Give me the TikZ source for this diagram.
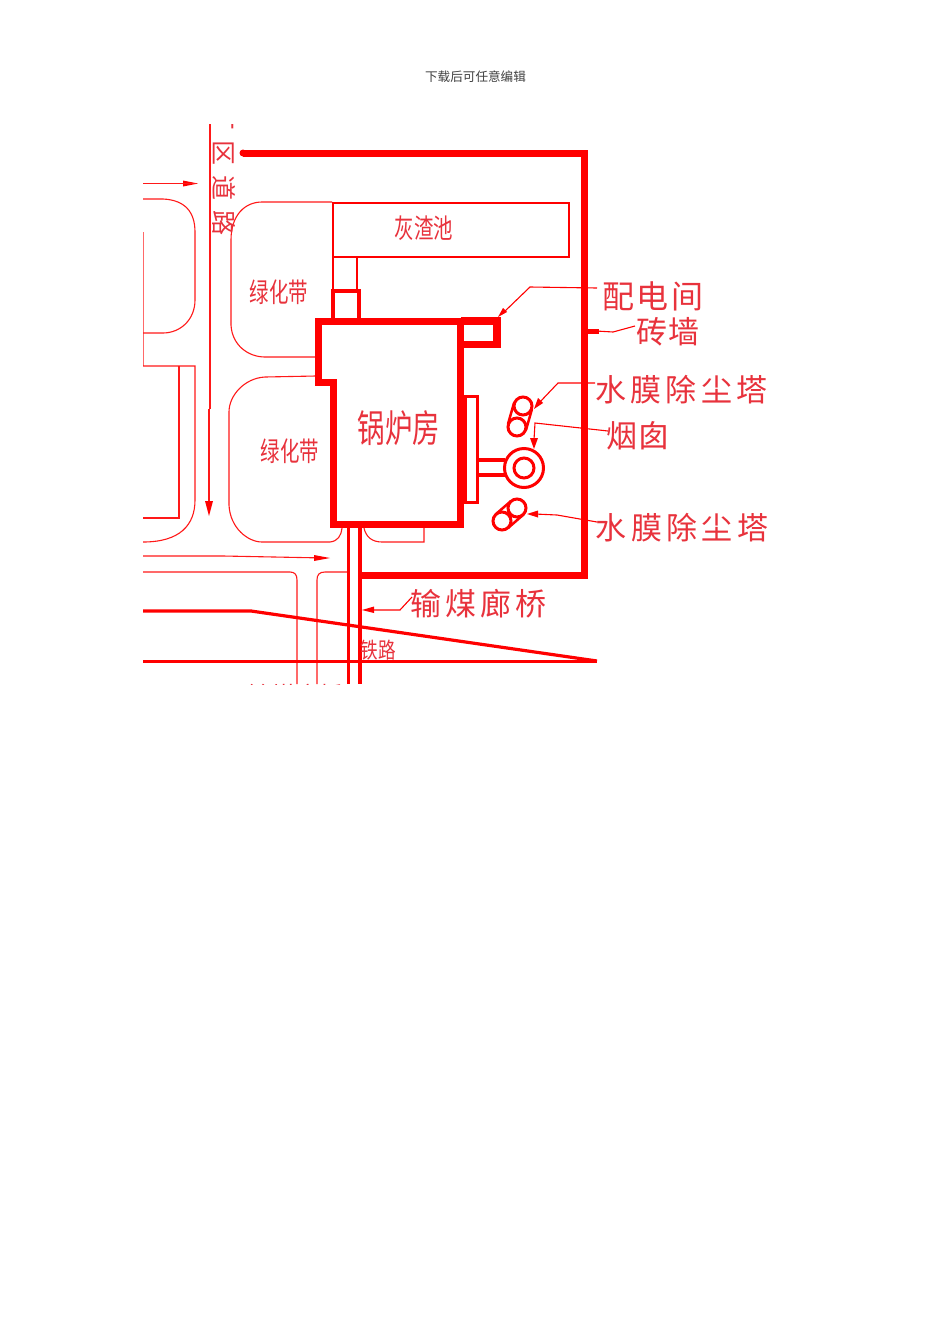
\documentclass[tikz,border=0pt]{standalone}
\usepackage{fontspec}
\setmainfont{Noto Sans CJK SC}
\definecolor{rd}{RGB}{255,0,0}
\definecolor{lbl}{RGB}{232,50,60}
\tikzset{
 thin line/.style={draw=rd!90!white,line width=1.1pt},
 wall/.style={draw=rd,line width=7pt,line join=miter},
 arrowline/.style={draw=rd,line width=1.1pt},
 tiph/.style={fill=rd,draw=none},
 ring/.style={draw=rd,circle,line width=3pt,inner sep=0pt},
 lab/.style={text=lbl,inner sep=0pt,font=\fontsize{#1}{#1}\selectfont},
 lab/.default=30
}
\begin{document}
\begin{tikzpicture}[x=1pt,y=-1pt]
\useasboundingbox (0,0) rectangle (950,1344);
\fill[white] (0,0) rectangle (950,1344);
\node[inner sep=0pt,text=black!75,font=\fontsize{12.6}{13}\selectfont] (hdr) at (475.5,76.5) {下载后可任意编辑};
\begin{scope}
\clip (143,124) rectangle (800,684);
% outer brick wall
\coordinate (w1) at (243,153);
\coordinate (w2) at (584.5,153);
\coordinate (w3) at (584.5,575);
\coordinate (w4) at (360,575);
\draw[rd,line width=7pt] (w1) -- (w2) -- (w3) -- (w4);
\fill[rd] (w1) circle (3.5pt);
% roads
\draw[thin line] (143,199) -- (163,199) .. controls (185,200) and (195,212) .. (195,232) -- (195,300) .. controls (195,320) and (180,333) .. (163,333) -- (143,333);
\draw[thin line] (143,232) -- (143,366) -- (195,366) -- (195,500) .. controls (195,525) and (180,542) .. (143,542);
\draw[thin line] (179,366) -- (179,518) -- (143,518);
\draw[thin line] (210,124) -- (210,409);
\draw[thin line] (209,409) -- (209,505);
\draw[thin line] (332,202) -- (262,202) .. controls (245,202) and (231,215) .. (231,240) -- (231,325) .. controls (232,345) and (248,357) .. (265,357) -- (316,357);
\draw[thin line] (316,376) -- (265,377) .. controls (245,378) and (229,395) .. (229,412) -- (229,505) .. controls (230,528) and (248,542) .. (262,542) -- (330,542) .. controls (338,541) and (341,536) .. (342,528);
\draw[thin line] (364,528) .. controls (366,537) and (372,542) .. (382,542) -- (424,542) -- (424,528);
\draw[thin line] (143,556) -- (223,556) -- (325,558);
\draw[thin line] (143,572) -- (290,572) .. controls (295,572) and (297,575) .. (297,580) -- (297,684);
\draw[thin line] (347,572) -- (325,572) .. controls (319,572) and (317,575) .. (317,580) -- (317,684);
% arrows on roads
\fill[tiph] (183,180.5) -- (183,186.5) -- (198,183.5) -- cycle;
\draw[thin line] (143,183.5) -- (196,183.5);
\fill[tiph] (205,501) -- (213,501) -- (209,516) -- cycle;
\fill[tiph] (314,555) -- (314,561) -- (330,558) -- cycle;
% ash pond
\draw[rd,line width=2.5pt] (333,203) rectangle (569,257);
\node[lab=27,xscale=.72] (pondt) at (424,228) {灰渣池};
\draw[rd,line width=2.5pt] (333,257) rectangle (357,290);
\draw[rd,line width=4pt] (332.5,291) rectangle (359,321);
% switch room
\draw[rd,line width=7.5pt,line join=miter] (461,321) -- (497,321) -- (497,344.5) -- (461,344.5);
% boiler house
\draw[wall] (318,321) -- (460.5,321) -- (460.5,524.5) -- (333,524.5) -- (333,382) -- (318,382) -- cycle;
\node[lab=38,xscale=.72] (boil) at (399,428) {锅炉房};
\node[lab=27,xscale=.72] (g1) at (279,292) {绿化带};
\node[lab=27,xscale=.72] (g2) at (290,451) {绿化带};
% flue box
\draw[rd,line width=3pt] (465,396) rectangle (477,502);
\draw[rd,line width=3.5pt] (477,460) -- (505,460);
\draw[rd,line width=3.5pt] (477,475) -- (505,475);
% stack
\node[ring,minimum size=39pt,fill=white] (stack) at (524,468) {};
\node[ring,minimum size=20pt] (stacki) at (524,468) {};
% scrubbers upper
\node[ring,minimum size=18pt] (s1) at (523,406) {};
\node[ring,minimum size=18pt] (s2) at (517,427) {};
\draw[rd,line width=2.5pt] (514,403) -- (508,424);
\draw[rd,line width=2.5pt] (532,409) -- (526,430);
% scrubbers lower
\node[ring,minimum size=18pt] (s3) at (517,508) {};
\node[ring,minimum size=18pt] (s4) at (502,521) {};
\draw[rd,line width=2.5pt] (511,501) -- (496,514);
\draw[rd,line width=2.5pt] (523,515) -- (508,528);
% coal gallery
\draw[rd,line width=3.3pt] (348.5,528) -- (348.5,684);
\draw[rd,line width=3.3pt] (360,528) -- (360,684);
% rail
\draw[rd,line width=3.2pt] (143,611) -- (251,611) -- (597,661);
\draw[rd,line width=3pt] (143,661.5) -- (597,661.5);
% labels
\node[lab=32] (t1) at (653,296) {配\hspace{3pt}电\hspace{3pt}间};
\node[lab=31] (t2) at (668,332) {砖\hspace{2pt}墙};
\node[lab=31] (t3) at (681.5,390) {水\hspace{4.5pt}膜\hspace{4.5pt}除\hspace{4.5pt}尘\hspace{4.5pt}塔};
\node[lab=31] (t4) at (638,436) {烟\hspace{2pt}囱};
\node[lab=31] (t5) at (682,528) {水\hspace{4.5pt}膜\hspace{4.5pt}除\hspace{4.5pt}尘\hspace{4.5pt}塔};
\node[lab=31] (t6) at (478.5,604) {输\hspace{4.3pt}煤\hspace{4.3pt}廊\hspace{4.3pt}桥};
\node[lab=22,xscale=.8] (t7) at (378,650) {铁路};
\node[lab=25,rotate=-90] (t8) at (224,170) {厂\hspace{10pt}区\hspace{10pt}道\hspace{10pt}路};
\node[lab=24,anchor=west] (t9) at (247,695) {输煤廊桥};
% leaders
\coordinate (l1) at (597,288);
\coordinate (l2) at (530,287);
\draw[arrowline] (l1) -- (l2) -- (503,313);
\fill[tiph] (498,317) -- (503,308) -- (507,312) -- cycle;
\draw[arrowline] (635,326) -- (613,332) -- (596,331);
\fill[tiph] (588,329) -- (599,329) -- (599,333.5) -- (588,333.5) -- cycle;
\draw[arrowline] (595,383) -- (558,383) -- (539,403);
\fill[tiph] (534,409) -- (538,398) -- (543,403) -- cycle;
\draw[arrowline] (608,431) -- (535,423) -- (534,440);
\fill[tiph] (530,438) -- (538,438) -- (534,449) -- cycle;
\draw[arrowline] (597,522) -- (557,515) -- (535,514);
\fill[tiph] (527,514) -- (538,510.5) -- (538,517.5) -- cycle;
\draw[arrowline] (412,597) -- (400,610) -- (372,610);
\fill[tiph] (362,610) -- (374,606.5) -- (374,613) -- cycle;
\end{scope}
\end{tikzpicture}
\end{document}
